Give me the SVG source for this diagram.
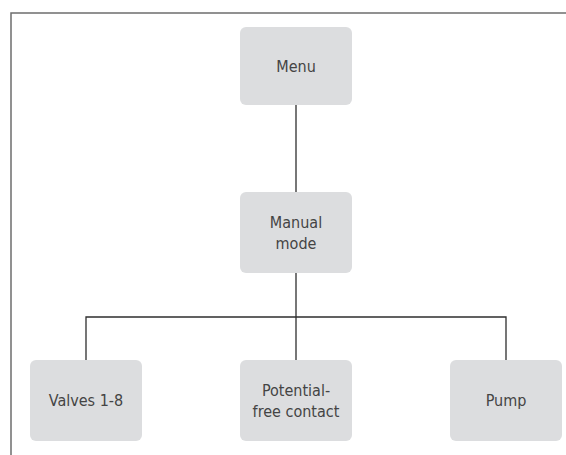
<svg xmlns="http://www.w3.org/2000/svg" width="566" height="455" viewBox="0 0 566 455">
  <style>
    .box { fill: #dcdddf; }
    .lbl { font-family: "DejaVu Sans Condensed", "Liberation Sans", sans-serif; font-size: 16px; fill: #444444; text-anchor: middle; }
    .wire { fill: none; stroke: #2e2e2e; stroke-width: 1.3; }
    .frame { fill: none; stroke: #6e6e6e; stroke-width: 1.5; }
  </style>
  <rect width="566" height="455" fill="#ffffff"/>
  <!-- outer frame: top and left edges only -->
  <path class="frame" d="M11 455 V13 H566"/>

  <g id="connectors">
    <path class="wire" d="M296 105 V192"/>
    <path class="wire" d="M296 273 V360"/>
    <path class="wire" d="M86 360 V317 H506 V360"/>
  </g>

  <g id="menu">
    <rect class="box" x="240" y="27" width="112" height="78" rx="6"/>
    <text class="lbl" x="296" y="72">Menu</text>
  </g>
  <g id="manual-mode">
    <rect class="box" x="240" y="192" width="112" height="81" rx="6"/>
    <text class="lbl" x="296" y="228">Manual</text>
    <text class="lbl" x="296" y="249">mode</text>
  </g>
  <g id="valves">
    <rect class="box" x="30" y="360" width="112" height="81" rx="6"/>
    <text class="lbl" x="86" y="406">Valves 1-8</text>
  </g>
  <g id="potential-free-contact">
    <rect class="box" x="240" y="360" width="112" height="81" rx="6"/>
    <text class="lbl" x="296" y="396">Potential-</text>
    <text class="lbl" x="296" y="417">free contact</text>
  </g>
  <g id="pump">
    <rect class="box" x="450" y="360" width="112" height="81" rx="6"/>
    <text class="lbl" x="506" y="406">Pump</text>
  </g>
</svg>
